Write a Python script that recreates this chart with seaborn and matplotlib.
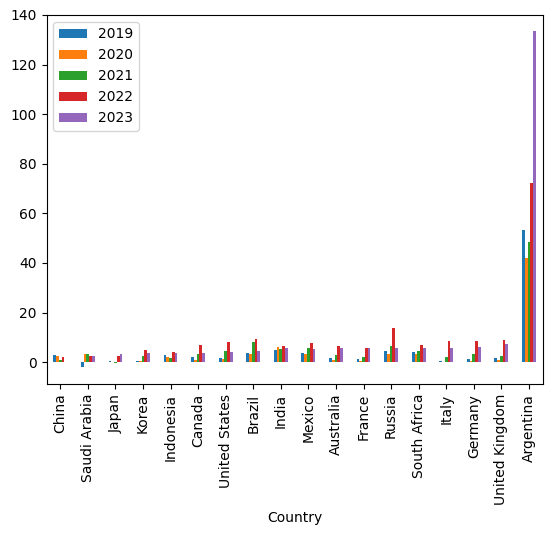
import matplotlib
matplotlib.use("Agg")
import matplotlib.pyplot as plt
import seaborn as sns
import pandas as pd

countries = ["China", "Saudi Arabia", "Japan", "Korea", "Indonesia", "Canada",
             "United States", "Brazil", "India", "Mexico", "Australia", "France",
             "Russia", "South Africa", "Italy", "Germany", "United Kingdom", "Argentina"]
years = ["2019", "2020", "2021", "2022", "2023"]

v2019 = [2.9, -2.1, 0.5, 0.4, 2.8, 1.9, 1.8, 3.7, 4.8, 3.6, 1.6, 1.3, 4.5, 4.1, 0.6, 1.4, 1.8, 53.5]
v2020 = [2.5, 3.4, 0.0, 0.5, 2.0, 0.7, 1.2, 3.2, 6.2, 3.4, 0.9, 0.5, 3.4, 3.3, -0.1, 0.4, 0.9, 42.0]
v2021 = [0.9, 3.1, -0.2, 2.5, 1.6, 3.4, 4.7, 8.3, 5.5, 5.7, 2.8, 2.1, 6.7, 4.6, 1.9, 3.2, 2.6, 48.4]
v2022 = [2.0, 2.5, 2.5, 5.1, 4.2, 6.8, 8.0, 9.3, 6.7, 7.9, 6.6, 5.9, 13.8, 6.9, 8.7, 8.7, 9.1, 72.4]
v2023 = [0.2, 2.3, 3.3, 3.6, 3.7, 3.9, 4.1, 4.6, 5.7, 5.5, 5.6, 5.7, 5.9, 5.9, 5.9, 6.0, 7.3, 133.5]

series = [v2019, v2020, v2021, v2022, v2023]
rows = []
for y, vals in zip(years, series):
    for c, v in zip(countries, vals):
        rows.append({"Country": c, "Year": y, "Value": v})
df = pd.DataFrame(rows)

fig = plt.figure(figsize=(5.52, 5.35), dpi=100)
ax = fig.add_axes([46.5 / 552, 1 - 384 / 535, (542.7 - 46.5) / 552, (384 - 15) / 535])

palette = ["#1f77b4", "#ff7f0e", "#2ca02c", "#d62728", "#9467bd"]
sns.barplot(data=df, x="Country", y="Value", hue="Year", order=countries,
            hue_order=years, palette=palette, saturation=1, width=0.5, gap=0,
            linewidth=0, ax=ax)

ax.set_xlim(-0.5, len(countries) - 0.5)
ax.set_ylim(-8.8, 140)
ax.set_ylabel("")
ax.set_xlabel("Country")
ax.tick_params(axis="x", rotation=90)

handles, labels = ax.get_legend_handles_labels()
ax.legend(handles, labels, loc="upper left")

fig.savefig("out.png", dpi=100)
